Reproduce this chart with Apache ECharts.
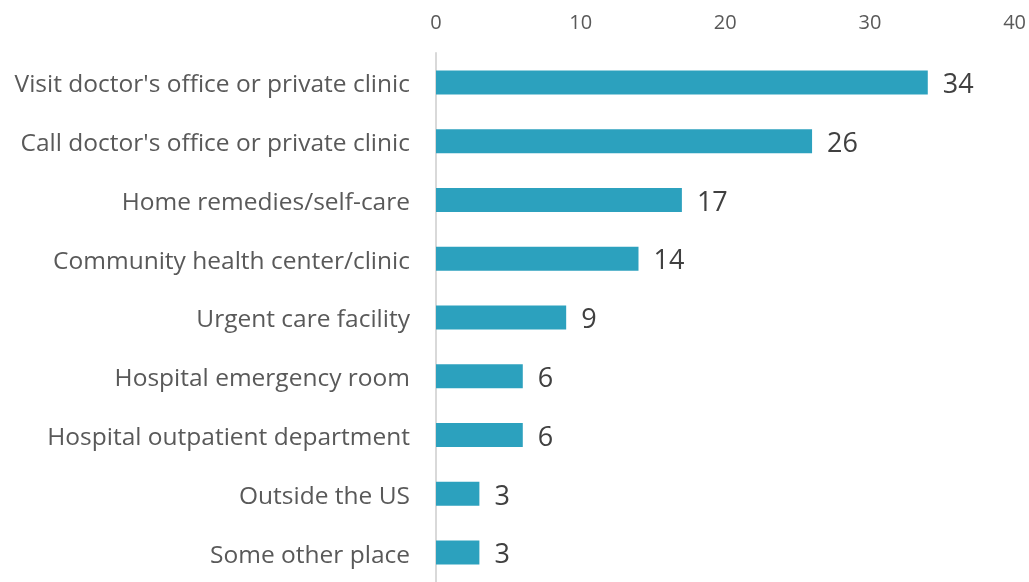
<!DOCTYPE html>
<html>
<head>
<meta charset="utf-8">
<script src="https://cdn.jsdelivr.net/npm/echarts@6/dist/echarts.min.js"></script>
<style>
  html, body { margin: 0; padding: 0; background: #fff; }
  #chart { width: 1029px; height: 582px; }
</style>
</head>
<body>
<div id="chart"></div>
<script>
var categories = [
  "Visit doctor's office or private clinic",
  "Call doctor's office or private clinic",
  'Home remedies/self-care',
  'Community health center/clinic',
  'Urgent care facility',
  'Hospital emergency room',
  'Hospital outpatient department',
  'Outside the US',
  'Some other place'
];
var values = [34, 26, 17, 14, 9, 6, 6, 3, 3];
var ticks = [0, 10, 20, 30, 40];

var myChart = echarts.init(document.getElementById('chart'));
var option = {
  animation: false,
  textStyle: { fontFamily: 'Open Sans' },
  grid: { left: 436, right: 10, top: 53, height: 531 },
  xAxis: {
    type: 'value',
    position: 'top',
    min: ticks[0],
    max: ticks[ticks.length - 1],
    interval: 10,
    axisLine: { show: false },
    axisTick: { show: false },
    splitLine: { show: false },
    axisLabel: { color: '#595959', fontSize: 20, margin: 20, fontFamily: 'Open Sans' }
  },
  yAxis: {
    type: 'category',
    inverse: true,
    data: categories,
    axisLine: { show: true, lineStyle: { color: '#D9D9D9', width: 2 } },
    axisTick: { show: false },
    axisLabel: {
      margin: 26,
      formatter: function (v) { return '{a|' + v + '}'; },
      rich: {
        a: { color: '#595959', fontSize: 24.5, fontFamily: 'Open Sans', padding: [6, 0, 0, 0] }
      }
    }
  },
  series: [{
    type: 'bar',
    data: values,
    barWidth: 24,
    itemStyle: { color: '#2CA1BE' },
    label: {
      show: true,
      position: 'right',
      distance: 15,
      offset: [0, 3],
      color: '#404040',
      fontSize: 27,
      fontFamily: 'Open Sans'
    }
  }]
};
myChart.setOption(option);
</script>
</body>
</html>
